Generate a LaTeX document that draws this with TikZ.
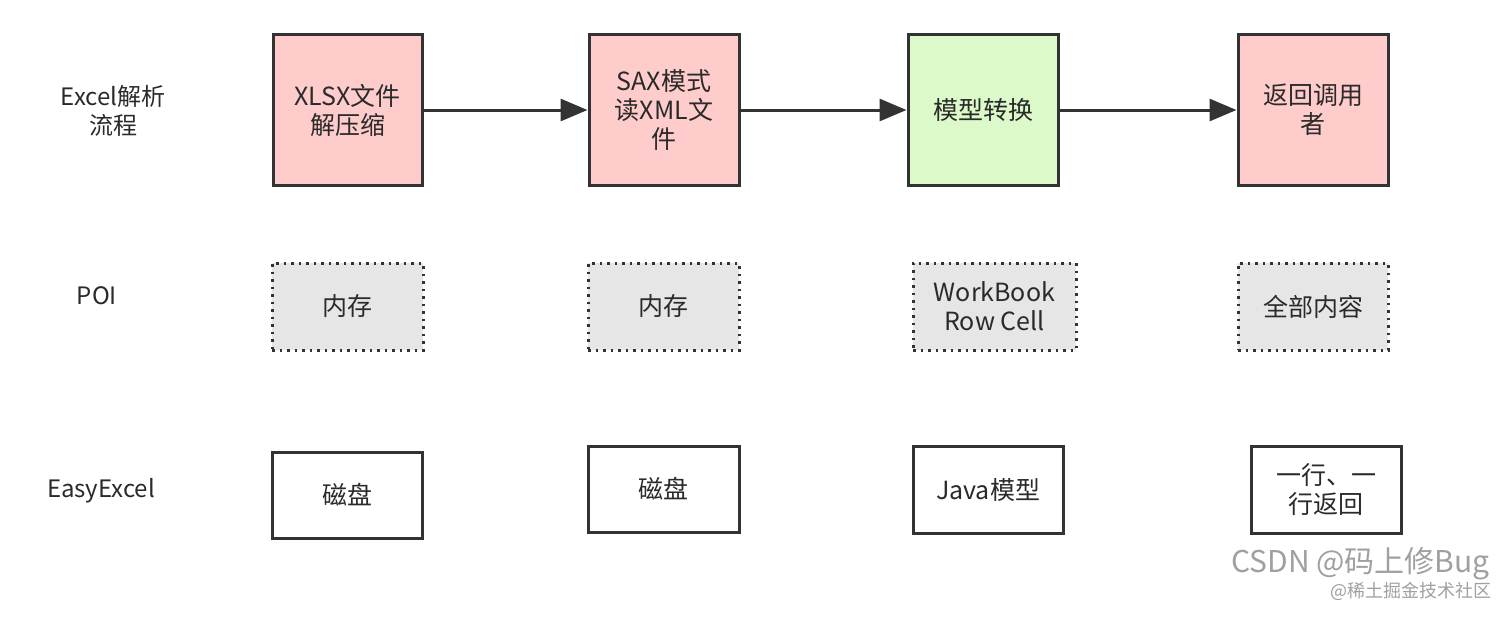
\documentclass[tikz,border=0pt]{standalone}
\usepackage{fontspec}
\setmainfont{Noto Sans CJK SC}
\usetikzlibrary{arrows.meta}
\definecolor{boxline}{HTML}{333333}
\definecolor{pinkfill}{HTML}{FFCCCC}
\definecolor{greenfill}{HTML}{DBF9C9}
\definecolor{grayfill}{HTML}{E6E6E6}
\definecolor{txt}{HTML}{2A2A2A}
\definecolor{wm}{HTML}{A0A0A0}
\tikzset{
  base/.style={draw=boxline, line width=3pt, align=center, text=txt,
    font=\fontsize{25}{29}\selectfont, inner sep=0pt},
  pinkbox/.style={base, fill=pinkfill},
  greenbox/.style={base, fill=greenfill},
  dotbox/.style={base, fill=grayfill, dash pattern=on 2.5pt off 5pt},
  plainbox/.style={base, fill=white},
  rowlabel/.style={align=center, text=txt, font=\fontsize{24}{29}\selectfont},
  flow/.style={draw=boxline, line width=3pt, -{Triangle[length=27pt,width=22pt]}}
}
\begin{document}
\begin{tikzpicture}[x=1pt,y=-1pt]
\useasboundingbox (0,0) rectangle (1512,618);
% row labels
\node[rowlabel] (l1) at (113,111) {Excel解析\\流程};
\node[rowlabel] (l2) at (97,296) {POI};
\node[rowlabel] (l3) at (101,491) {EasyExcel};
% top row
\node[pinkbox, minimum width=149pt, minimum height=150pt] (a1) at (347.5,110) {XLSX文件\\解压缩};
\node[pinkbox, minimum width=150pt, minimum height=150pt] (a2) at (664,110) {SAX模式\\读XML文\\件};
\node[greenbox, minimum width=150pt, minimum height=150pt] (a3) at (983,110) {模型转换};
\node[pinkbox, minimum width=150pt, minimum height=150pt] (a4) at (1313,110) {返回调用\\者};
\draw[flow] (a1.east) -- (a2.west);
\draw[flow] (a2.east) -- (a3.west);
\draw[flow] (a3.east) -- (a4.west);
% POI row
\node[dotbox, minimum width=151pt, minimum height=87pt] (b1) at (347.5,306.5) {内存};
\node[dotbox, minimum width=151pt, minimum height=87pt] (b2) at (663.5,306.5) {内存};
\node[dotbox, minimum width=163pt, minimum height=87pt] (b3) at (994.5,306.5) {WorkBook\\Row Cell};
\node[dotbox, minimum width=150pt, minimum height=87pt] (b4) at (1313,306.5) {全部内容};
% EasyExcel row
\node[plainbox, minimum width=150pt, minimum height=86pt] (c1) at (347,495) {磁盘};
\node[plainbox, minimum width=151pt, minimum height=86pt] (c2) at (663.5,489) {磁盘};
\node[plainbox, minimum width=150pt, minimum height=87pt] (c3) at (988,489.5) {Java模型};
\node[plainbox, minimum width=150pt, minimum height=87pt] (c4) at (1326,489.5) {一行、一\\行返回};
% watermark
\node[anchor=east, text=wm, font=\fontsize{30}{32}\selectfont, inner sep=0pt] (w1) at (1490,564) {CSDN @码上修Bug};
\node[anchor=east, text=wm, font=\fontsize{18}{20}\selectfont, inner sep=0pt] (w2) at (1492,591) {@稀土掘金技术社区};
\end{tikzpicture}
\end{document}
